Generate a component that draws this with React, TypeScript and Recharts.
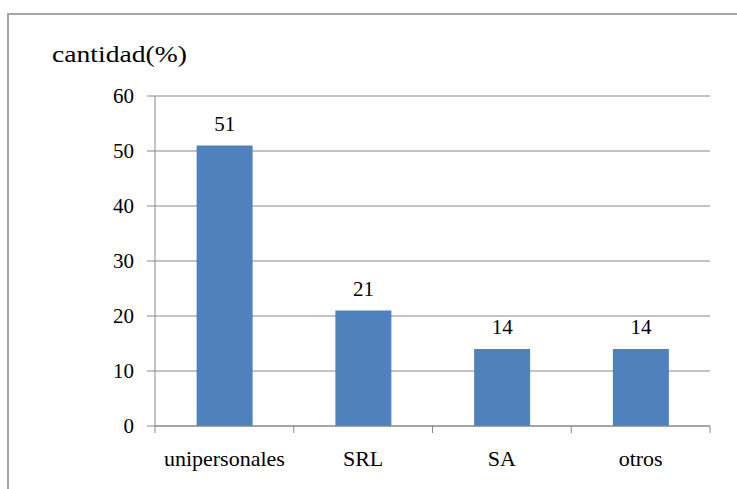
import React from "react";
import { Bar, BarChart, CartesianGrid, LabelList, XAxis, YAxis } from "recharts";

const categories = ["unipersonales", "SRL", "SA", "otros"];
const cantidad = [51, 21, 14, 14];
const yTicks = [0, 10, 20, 30, 40, 50, 60];
const yLabel = "cantidad(%)";

const data = categories.map((name, i) => ({ name, cantidad: cantidad[i] }));

const W = 737;
const H = 489;
const PLOT_LEFT = 155;
const PLOT_RIGHT = 710;
const BAND = (PLOT_RIGHT - PLOT_LEFT) / categories.length;
const FONT = "Times New Roman";
const GRID = "#878787";
const BAR = "#4f81bd";

const YTick = (props: any) => {
  const { x, y, payload } = props;
  return (
    <text x={x} y={y + 7} textAnchor="end" fontFamily={FONT} style={{ fontFamily: FONT }} fontSize={21} fill="#000">
      {payload.value}
    </text>
  );
};

// category label plus the short divider ticks on both band edges
const XTick = (props: any) => {
  const { x, y, payload, index } = props;
  const last = index === categories.length - 1;
  return (
    <g>
      <line x1={x - BAND / 2} x2={x - BAND / 2} y1={y} y2={y + 7} stroke={GRID} />
      {last && <line x1={x + BAND / 2} x2={x + BAND / 2} y1={y} y2={y + 7} stroke={GRID} />}
      <text x={x} y={y + 40} textAnchor="middle" fontFamily={FONT} style={{ fontFamily: FONT }} fontSize={22} fill="#000">
        {payload.value}
      </text>
    </g>
  );
};

const ValueLabel = (props: any) => {
  const { x, y, width, value } = props;
  return (
    <text x={x + width / 2} y={y - 15} textAnchor="middle" fontFamily={FONT} style={{ fontFamily: FONT }} fontSize={21} fill="#000">
      {value}
    </text>
  );
};

export default function App() {
  return (
    <div style={{ position: "absolute", left: 0, top: 0, width: W, height: H, overflow: "hidden", background: "#fff", fontFamily: FONT }}>
      <div
        style={{
          position: "absolute",
          left: 7,
          top: 13,
          width: W,
          height: H,
          borderLeft: "2px solid #a6a6a6",
          borderTop: "2px solid #a6a6a6",
        }}
      />
      <div
        style={{
          position: "absolute",
          left: 52,
          top: 40,
          fontFamily: FONT,
          fontSize: 24,
          lineHeight: "28px",
          color: "#000",
          whiteSpace: "nowrap",
          transform: "scaleX(1.15)",
          transformOrigin: "0 0",
        }}
      >
        {yLabel}
      </div>
      <div style={{ position: "absolute", left: 0, top: 0 }}>
        <BarChart
          width={W}
          height={H}
          data={data}
          margin={{ top: 96, right: W - PLOT_RIGHT, bottom: 23, left: PLOT_LEFT - 60 }}
          barCategoryGap="30%"
          style={{ fontFamily: FONT }}
        >
          <CartesianGrid vertical={false} stroke={GRID} />
          <XAxis
            dataKey="name"
            height={40}
            axisLine={{ stroke: GRID }}
            tickLine={false}
            tickSize={0}
            tickMargin={0}
            tick={<XTick />}
            interval={0}
          />
          <YAxis
            width={60}
            domain={[0, 60]}
            ticks={yTicks}
            axisLine={{ stroke: GRID }}
            tickLine={{ stroke: GRID }}
            tickSize={8}
            tickMargin={13}
            tick={<YTick />}
            interval={0}
          />
          <Bar dataKey="cantidad" fill={BAR} isAnimationActive={false}>
            <LabelList dataKey="cantidad" content={<ValueLabel />} />
          </Bar>
        </BarChart>
      </div>
    </div>
  );
}
